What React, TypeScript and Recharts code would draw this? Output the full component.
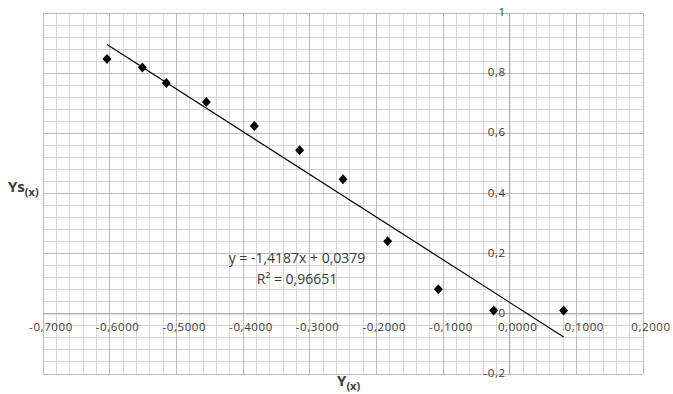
import { CartesianGrid, ReferenceLine, Scatter, ScatterChart, XAxis, YAxis } from 'recharts';

const xTicks = [-0.7, -0.6, -0.5, -0.4, -0.3, -0.2, -0.1, 0, 0.1, 0.2];
const xTickLabels = ['-0,7000', '-0,6000', '-0,5000', '-0,4000', '-0,3000', '-0,2000', '-0,1000', '0,0000', '0,1000', '0,2000'];
const yTicks = [-0.2, 0, 0.2, 0.4, 0.6, 0.8, 1];
const yTickLabels = ['-0,2', '0', '0,2', '0,4', '0,6', '0,8', '1'];

// measured points Y(x) -> Ys(x)
const pointX = [-0.604, -0.551, -0.515, -0.455, -0.383, -0.315, -0.25, -0.183, -0.107, -0.024, 0.081];
const pointY = [0.847, 0.819, 0.767, 0.704, 0.624, 0.544, 0.447, 0.241, 0.082, 0.011, 0.011];

// linear trend line ends (y = -1,4187x + 0,0379)
const trendX = [-0.604, 0.081];
const trendY = [0.895, -0.077];

const equation = 'y = -1,4187x + 0,0379';
const rSquared = 'R² = 0,96651';

const minorX: number[] = [];
for (let i = 0; i <= 45; i++) minorX.push(-0.7 + i * 0.02);
const minorY: number[] = [];
for (let i = 0; i <= 30; i++) minorY.push(-0.2 + i * 0.04);

const points = pointX.map((x, i) => ({ x, y: pointY[i] }));
const trend = trendX.map((x, i) => ({ x, y: trendY[i] }));
const xLabelData = xTicks.map((x, i) => ({ x, y: 0, label: xTickLabels[i] }));
const yLabelData = yTicks.map((y, i) => ({ x: 0, y, label: yTickLabels[i] }));

const font = '"Open Sans", Lato, sans-serif';
const textColor = '#3a3a3a';

const Diamond = (p: any) => (
  <path
    d={`M${p.cx},${p.cy - 5}L${p.cx + 4.5},${p.cy}L${p.cx},${p.cy + 5}L${p.cx - 4.5},${p.cy}Z`}
    fill="#000"
  />
);

const XLabel = (p: any) => (
  <text x={p.cx + 8} y={p.cy + 17} textAnchor="middle" fontSize={11.5} letterSpacing={0.6} fill={textColor} fontFamily={font}>
    {p.payload.label}
  </text>
);

const YLabel = (p: any) => (
  <text x={p.cx - 4} y={p.cy + 3} textAnchor="end" fontSize={11.5} letterSpacing={0.6} fill={textColor} fontFamily={font}>
    {p.payload.label}
  </text>
);

export default function App() {
  return (
    <div style={{ position: 'absolute', left: 0, top: 0, width: 673, height: 394, fontFamily: font, background: '#fff' }}>
      <style>{'.recharts-cartesian-grid line{shape-rendering:crispEdges}'}</style>
      <ScatterChart width={673} height={394} margin={{ top: 13, right: 30, bottom: 20, left: 43 }}>
        <XAxis type="number" dataKey="x" domain={[-0.7, 0.2]} tickCount={10} interval={0} hide />
        <YAxis type="number" dataKey="y" domain={[-0.2, 1]} tickCount={7} interval={0} hide />
        <CartesianGrid verticalValues={minorX} horizontalValues={minorY} stroke="#d6d6d6" />
        <CartesianGrid verticalValues={xTicks} horizontalValues={yTicks} stroke="#bababa" />
        <ReferenceLine x={0} stroke="#a6a6a6" />
        <ReferenceLine y={0} stroke="#a6a6a6" />
        <Scatter
          data={trend}
          line={{ stroke: '#000', strokeWidth: 1.2 }}
          lineType="joint"
          shape={() => <g />}
          isAnimationActive={false}
        />
        <Scatter data={points} shape={Diamond} isAnimationActive={false} />
        <Scatter data={xLabelData} shape={XLabel} isAnimationActive={false} />
        <Scatter data={yLabelData} shape={YLabel} isAnimationActive={false} />
      </ScatterChart>
      <div style={{ position: 'absolute', left: 297, top: 247, transform: 'translateX(-50%)', fontSize: 14, color: textColor, whiteSpace: 'nowrap', lineHeight: '21px', textAlign: 'center' }}>
        <div>{equation}</div>
        <div>{rSquared}</div>
      </div>
      <div style={{ position: 'absolute', left: 8, top: 176, fontSize: 15, fontWeight: 'bold', color: textColor, whiteSpace: 'nowrap' }}>
        Ys<sub style={{ fontSize: 11 }}>(x)</sub>
      </div>
      <div style={{ position: 'absolute', left: 337, top: 370, fontSize: 15, fontWeight: 'bold', color: textColor, whiteSpace: 'nowrap' }}>
        Y<sub style={{ fontSize: 11 }}>(x)</sub>
      </div>
    </div>
  );
}
